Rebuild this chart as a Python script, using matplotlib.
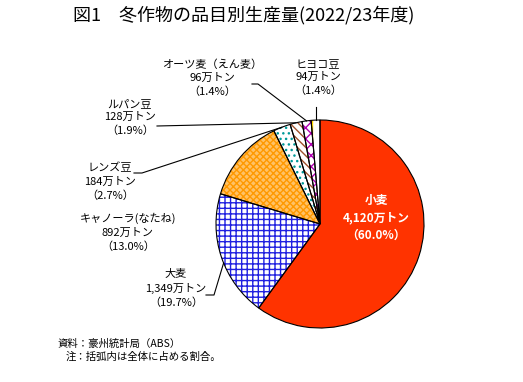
import numpy as np
import matplotlib
matplotlib.use("Agg")
import matplotlib.pyplot as plt

plt.rcParams['font.family'] = ['Noto Sans CJK JP', 'DejaVu Sans']
plt.rcParams['hatch.linewidth'] = 1.0

# data (10,000 t), clockwise from 12 o'clock
crops = ["小麦", "大麦", "キャノーラ(なたね)", "レンズ豆", "ルパン豆", "オーツ麦（えん麦）", "ヒヨコ豆"]
volumes = [4120, 1349, 892, 184, 128, 96, 94]
shares = [60.0, 19.7, 13.0, 2.7, 1.9, 1.4, 1.4]

faces = ["#FF3300", "white", "#FFC266", "white", "white", "white", "white"]
hatch_colors = ["#FF3300", "#2020E0", "#FF9900", "#009999", "#A0522D", "#B000B0", "#FFD700"]
hatches = [None, "+++", "xxxxx", "...", "\\\\\\\\", "xxx", "||"]

W, H = 523, 382
CX, CY, R = 320, 224, 104


def py(y):
    # pixel row -> data y
    return H - y


fig = plt.figure(figsize=(W / 100, H / 100), dpi=100)
ax = fig.add_axes([0, 0, 1, 1])

wedges, _ = ax.pie(volumes, startangle=90, counterclock=False, radius=R,
                   center=(CX, py(CY)), colors=faces, frame=False,
                   wedgeprops=dict(linewidth=0))
for w, hc, h in zip(wedges, hatch_colors, hatches):
    w.set_edgecolor(hc)
    if h:
        w.set_hatch(h)
# outlines on top
ax.pie(volumes, startangle=90, counterclock=False, radius=R,
       center=(CX, py(CY)), colors=["none"] * len(volumes), frame=False,
       wedgeprops=dict(linewidth=0.8, edgecolor="black", fill=False))

ax.set_xlim(0, W)
ax.set_ylim(0, H)
ax.set_aspect("auto")
ax.axis("off")


def edge_point(i, frac=0.5):
    w = wedges[i]
    a = np.deg2rad(w.theta1 + (w.theta2 - w.theta1) * frac)
    return CX + R * np.cos(a), py(CY) + R * np.sin(a)


def label(i, x, y):
    txt = f"{crops[i]}\n{volumes[i]:,}万トン\n（{shares[i]:.1f}%）"
    ax.text(x, py(y), txt, ha="center", va="top", fontsize=8, linespacing=1.4)


# wheat (inside)
ax.text(376, py(194), f"{crops[0]}\n{volumes[0]:,}万トン\n（{shares[0]:.1f}%）",
        ha="center", va="top", fontsize=8.5, color="white", fontweight="bold",
        linespacing=1.45)

label(1, 176, 269)
label(2, 128, 213)
label(3, 110, 163)
label(4, 130, 99)
label(5, 212, 59)
label(6, 318, 59)

lk = dict(color="black", lw=0.8)
# barley
ex, ey = edge_point(1, 0.55)
ax.plot([206, 214, ex], [py(295), py(295), ey], **lk)
# lentils
ex, ey = edge_point(3)
ax.plot([134, 142, ex], [py(173), py(173), ey], **lk)
# lupin
ex, ey = edge_point(4)
ax.plot([157, ex], [py(126), ey], **lk)
# oats
ex, ey = edge_point(5)
ax.plot([252, 258, ex], [py(84), py(84), ey], **lk)
# chickpea
ex, ey = edge_point(6)
ax.plot([ex, ex], [py(107), ey], **lk)

fig.text(244 / W, 1 - 15 / H, "図1　冬作物の品目別生産量(2022/23年度)",
         ha="center", va="center", fontsize=13)
fig.text(58 / W, 1 - 344 / H, "資料：豪州統計局（ABS）", ha="left", va="center", fontsize=7.5)
fig.text(66 / W, 1 - 357 / H, "注：括弧内は全体に占める割合。", ha="left", va="center", fontsize=7.5)

fig.savefig("out.png", dpi=100)
